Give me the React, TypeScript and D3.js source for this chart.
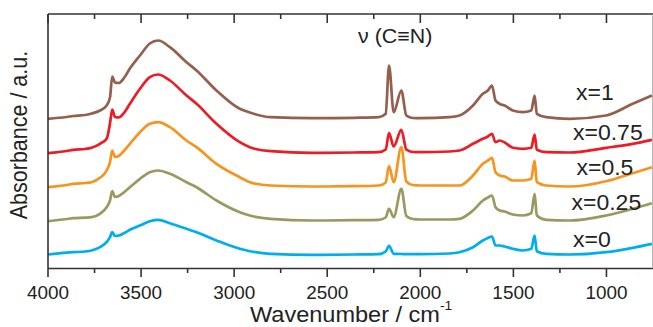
import React from "react";
import * as d3 from "d3";

const wavenumbers = [4000, 3900, 3864, 3800, 3766, 3721, 3685, 3667, 3655, 3640, 3620, 3590, 3560, 3506, 3453, 3408, 3345, 3256, 3202, 3095, 2970, 2916, 2804, 2580, 2357, 2223, 2186, 2168, 2143, 2102, 2075, 2041, 2000, 1843, 1789, 1717, 1664, 1637, 1615, 1596, 1574, 1547, 1503, 1449, 1404, 1386, 1374, 1324, 1199, 1002, 859, 756];

const seriesX1 = [149.7, 151.5, 152.5, 153.5, 155, 158, 163, 171, 192, 186, 185.5, 191, 200, 213, 225, 228, 221.3, 206.3, 198, 178, 159.7, 156, 151.3, 150.3, 150.7, 151.3, 154.7, 203, 156.3, 178, 153, 150.5, 150.3, 151.3, 153, 163, 174.7, 178, 183, 168, 164.7, 163, 158, 156.3, 158, 173, 154.7, 151.3, 149.7, 153, 164.7, 173];
const seriesX075 = [115.3, 117.5, 118.7, 119.5, 120.7, 124.7, 129.7, 145, 159, 151.5, 151, 156, 164.7, 179.7, 191.3, 194, 188, 173, 164.7, 144.7, 126.3, 121.3, 117.3, 115.7, 116, 116.3, 119, 135.3, 122, 138.7, 119, 116.5, 116.3, 117, 118, 124.7, 129.7, 132, 134.7, 126.3, 128, 126, 120.7, 119.7, 120.7, 134, 118.7, 116.3, 116, 120.7, 124.7, 128.7];
const seriesX05 = [81.3, 83.5, 84.7, 85.5, 86.3, 90.7, 98, 106.3, 118, 111.5, 112.5, 118, 124.7, 136.3, 144.7, 146.3, 141.3, 128, 121.3, 104.7, 91.3, 86.3, 83, 82, 82.3, 83, 86, 102.3, 86.3, 121.5, 87, 83.5, 83, 83, 83, 93, 104.7, 108, 110.7, 96.3, 93, 92, 88, 88, 89.7, 108, 86.3, 83, 82, 87.3, 95.3, 101.3];
const seriesX025 = [47.3, 49.5, 50.3, 50.8, 51.3, 54.7, 61.3, 68, 77.3, 71.5, 72.5, 76.5, 81.3, 89.7, 96.3, 98, 94.7, 86.3, 81.3, 68, 56.3, 53, 49.7, 48, 48.3, 48.7, 51, 59.7, 51.3, 79.7, 52.5, 49.5, 49, 49, 49.7, 58, 68, 71, 73, 61.3, 58, 57, 54, 53, 55.3, 74.7, 53, 48.7, 48, 53, 59.7, 65.3];
const seriesX0 = [14, 15.8, 16.3, 17, 18, 21.3, 26.3, 31.3, 36.3, 32.5, 33, 35.5, 38.7, 43, 47.3, 48.7, 45.3, 39.7, 36.3, 28, 19.7, 17.3, 14.7, 13.7, 14, 14.3, 17, 22.7, 14.7, 14.5, 14.3, 14.3, 14.3, 15, 16.3, 21.3, 28, 30.5, 32, 23, 23, 22, 19.7, 18, 19.7, 33, 17.3, 14.7, 14, 16.3, 20.7, 24.7];

const seriesNames = ["x=1", "x=0.75", "x=0.5", "x=0.25", "x=0"];
const seriesColors = ["#945f4c", "#ec1c24", "#f7941d", "#9b9960", "#00aeef"];
const seriesData = [seriesX1, seriesX075, seriesX05, seriesX025, seriesX0];
const labelPos = [
  [576, 99.5],
  [573, 139.5],
  [576.5, 175],
  [571.5, 209.5],
  [573, 246.7],
];

const majorTicks = [4000, 3500, 3000, 2500, 2000, 1500, 1000];
const minorTicks = [3750, 3250, 2750, 2250, 1750, 1250];

const W = 653;
const H = 327;
const left = 48;
const right = 653;
const top = 14;
const bottom = 268.5;

const FONT = "'Liberation Sans', Arial, Helvetica, sans-serif";
const AXIS = "#333";

export default function App() {
  const x = d3.scaleLinear().domain([4000, 750]).range([left, right]);
  const y = d3.scaleLinear().domain([0, 254.5]).range([bottom, top]);
  const line = d3
    .line<number>()
    .x((_, i) => x(wavenumbers[i]))
    .y((d) => y(d))
    .curve(d3.curveMonotoneX);

  return (
    <svg width={W} height={H} style={{ position: "absolute", left: 0, top: 0, background: "#fff" }}>
      <defs>
        <clipPath id="plot">
          <rect x={left} y={top} width={right - left} height={bottom - top} />
        </clipPath>
      </defs>
      <g clipPath="url(#plot)">
        {seriesData.map((s, i) => (
          <path key={i} d={line(s) || ""} fill="none" stroke={seriesColors[i]} strokeWidth={2.7} strokeLinejoin="round" />
        ))}
      </g>
      <line x1={left} x2={right} y1={top} y2={top} stroke={AXIS} strokeWidth={1.6} />
      <line x1={left} x2={right} y1={bottom} y2={bottom} stroke={AXIS} strokeWidth={1.6} />
      <line x1={left} x2={left} y1={top} y2={bottom} stroke={AXIS} strokeWidth={1.6} />
      <line x1={652.8} x2={652.8} y1={top} y2={bottom} stroke="#999" strokeWidth={1} />
      {majorTicks.map((t) => (
        <g key={"M" + t}>
          <line x1={x(t)} x2={x(t)} y1={bottom} y2={bottom + 8.5} stroke={AXIS} strokeWidth={1.6} />
          <line x1={x(t)} x2={x(t)} y1={top} y2={top + 9} stroke={AXIS} strokeWidth={1.6} />
          <text
            transform={`translate(${x(t)},299) scale(1.08,1)`}
            textAnchor="middle"
            fontFamily={FONT}
            fontSize={17.5}
            fill="#222"
          >
            {t}
          </text>
        </g>
      ))}
      {minorTicks.map((t) => (
        <g key={"m" + t}>
          <line x1={x(t)} x2={x(t)} y1={bottom} y2={bottom + 4.5} stroke={AXIS} strokeWidth={1.6} />
          <line x1={x(t)} x2={x(t)} y1={top} y2={top + 5} stroke={AXIS} strokeWidth={1.6} />
        </g>
      ))}
      {seriesNames.map((n, i) => (
        <text
          key={n}
          transform={`translate(${labelPos[i][0]},${labelPos[i][1]}) scale(1.07,1)`}
          fontFamily={FONT}
          fontSize={21.5}
          fill="#222"
        >
          {n}
        </text>
      ))}
      <text transform="translate(358,43) scale(1.07,1)" fontFamily={FONT} fontSize={20} fill="#222">
        ν (C≡N)
      </text>
      <text transform="translate(250,322) scale(1.07,1)" fontFamily={FONT} fontSize={22} fill="#222">
        Wavenumber / cm
        <tspan fontSize={13} dy={-12}>-1</tspan>
      </text>
      <text
        transform="translate(27,135) scale(1.07,1) rotate(-90)"
        textAnchor="middle"
        fontFamily={FONT}
        fontSize={21.5}
        fill="#222"
      >
        Absorbance / a.u.
      </text>
    </svg>
  );
}
